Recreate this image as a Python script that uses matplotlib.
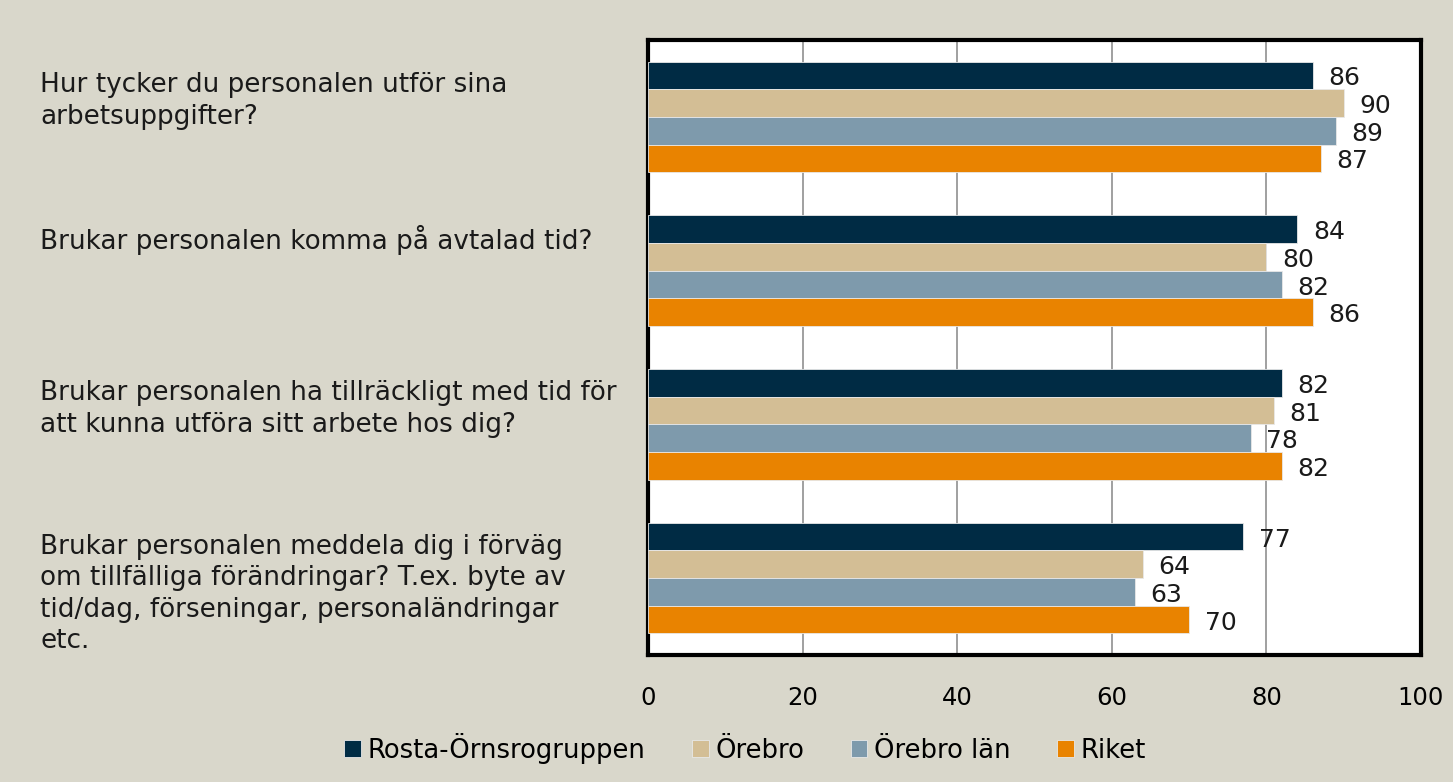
import matplotlib
matplotlib.use("Agg")
import matplotlib.pyplot as plt
import numpy as np

questions = [
    "Hur tycker du personalen utför sina\narbetsuppgifter?",
    "Brukar personalen komma på avtalad tid?",
    "Brukar personalen ha tillräckligt med tid för\natt kunna utföra sitt arbete hos dig?",
    "Brukar personalen meddela dig i förväg\nom tillfälliga förändringar? T.ex. byte av\ntid/dag, förseningar, personaländringar\netc.",
]
series_names = ["Rosta-Örnsrogruppen", "Örebro", "Örebro län", "Riket"]
rosta = [86, 84, 82, 77]
orebro = [90, 80, 81, 64]
orebro_lan = [89, 82, 78, 63]
riket = [87, 86, 82, 70]
colors = ["#002B44", "#D3BE95", "#7E9AAC", "#E98300"]
xticks = [0, 20, 40, 60, 80, 100]

plt.rcParams['font.family'] = ['DejaVu Sans']
bg = "#D9D7CB"
fs = 17.5
fs_lab = 18.9
fig = plt.figure(figsize=(14.53, 7.82), dpi=100, facecolor=bg)
ax = fig.add_axes([648/1453, 1-655/782, (1421-648)/1453, (655-40)/782])
ax.set_facecolor("white")

data = [rosta, orebro, orebro_lan, riket]
n = len(questions)
bh = 0.18
for si, (vals, c, name) in enumerate(zip(data, colors, series_names)):
    ys = np.arange(n) + (si - 1.5) * bh
    ax.barh(ys, vals, height=bh, color=c, label=name, edgecolor="#e8e8e8", linewidth=0.6, zorder=3)
    for y, v in zip(ys, vals):
        ax.text(v + 2, y + 0.02, str(v), va="center", ha="left", fontsize=18, color="#1a1a1a", zorder=4)

ax.set_xlim(0, 100)
ax.set_ylim(n - 0.5, -0.5)
ax.set_xticks(xticks)
ax.set_xticklabels([str(t) for t in xticks], fontsize=fs)
ax.tick_params(axis='x', length=0, pad=22)
ax.set_yticks([])
ax.grid(axis='x', color="#999999", linewidth=1.3, zorder=0)
for s in ax.spines.values():
    s.set_linewidth(3)
    s.set_color("black")

label_y_px = [101, 240, 409, 594]
for q, ypx in zip(questions, label_y_px):
    fig.text(40/1453, 1 - ypx/782, q, ha="left", va="center", fontsize=fs_lab, linespacing=1.27, color="#1a1a1a")

leg = fig.legend(loc="center", bbox_to_anchor=(745/1453, 1-748/782), ncol=4, frameon=False,
                 fontsize=18.6, handlelength=0.65, handleheight=0.65, handletextpad=0.25, columnspacing=1.8)

fig.savefig("out.png", dpi=100, facecolor=bg)
